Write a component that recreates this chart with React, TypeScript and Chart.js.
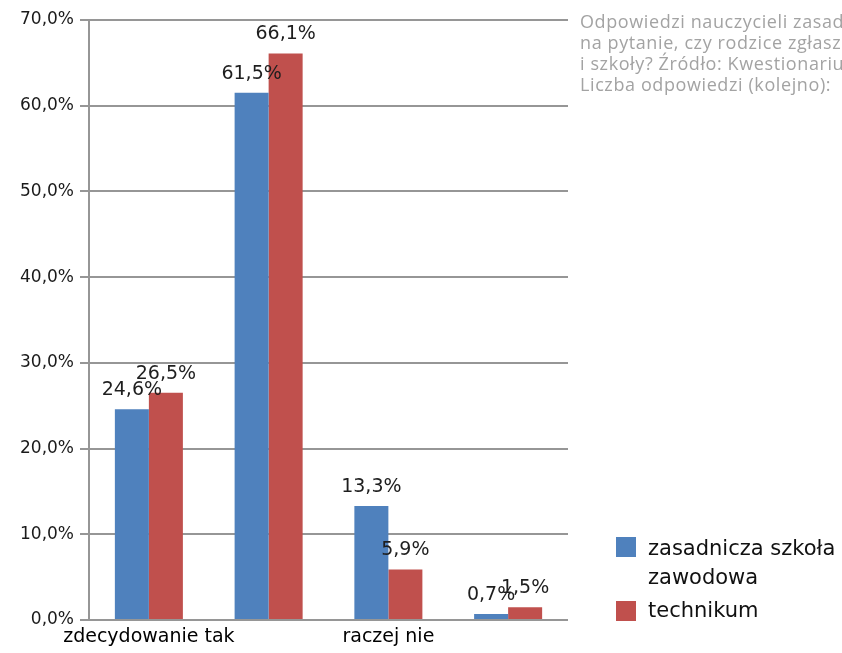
import React, { useEffect, useRef } from "react";
import { Chart, registerables } from "chart.js";

Chart.register(...registerables);

const categories = ["zdecydowanie tak", "raczej tak", "raczej nie", "zdecydowanie nie"];
const seriesNames = ["zasadnicza szkoła zawodowa", "technikum"];
const zszValues = [24.6, 61.5, 13.3, 0.7];
const technikumValues = [26.5, 66.1, 5.9, 1.5];
const yTicks = [0, 10, 20, 30, 40, 50, 60, 70];
const noteLines = [
  "Odpowiedzi nauczycieli zasadniczych",
  "na pytanie, czy rodzice zgłaszają",
  "i szkoły? Źródło: Kwestionariusz",
  "Liczba odpowiedzi (kolejno):",
];

const BLUE = "#4F81BD";
const RED = "#C0504D";
const GRID = "#969696";

const fmt = (v: number) => v.toFixed(1).replace(".", ",") + "%";

const valueLabels = {
  id: "valueLabels",
  afterDatasetsDraw(chart: any) {
    const ctx = chart.ctx;
    ctx.save();
    ctx.font = "19px 'DejaVu Sans'";
    ctx.fillStyle = "#1e1e1e";
    ctx.textAlign = "center";
    ctx.textBaseline = "alphabetic";
    chart.data.datasets.forEach((ds: any, di: number) => {
      const meta = chart.getDatasetMeta(di);
      meta.data.forEach((bar: any, i: number) => {
        ctx.fillText(fmt(ds.data[i]), bar.x, bar.y - 14);
      });
    });
    ctx.restore();
  },
};

export default function App() {
  const canvasRef = useRef<HTMLCanvasElement | null>(null);

  useEffect(() => {
    if (!canvasRef.current) return;
    const chart = new Chart(canvasRef.current, {
      type: "bar",
      data: {
        labels: categories,
        datasets: [
          {
            label: seriesNames[0],
            data: zszValues,
            backgroundColor: BLUE,
            categoryPercentage: 0.568,
            barPercentage: 1,
          },
          {
            label: seriesNames[1],
            data: technikumValues,
            backgroundColor: RED,
            categoryPercentage: 0.568,
            barPercentage: 1,
          },
        ],
      },
      options: {
        responsive: true,
        maintainAspectRatio: false,
        animation: false,
        layout: { padding: { top: 20, right: 274, left: 0, bottom: 0 } },
        plugins: {
          legend: { display: false },
          tooltip: { enabled: false },
        },
        scales: {
          x: {
            grid: { display: false, drawTicks: false },
            border: { display: false },
            ticks: {
              autoSkip: false,
              maxRotation: 0,
              padding: 6,
              color: "#000",
              font: { family: "'DejaVu Sans'", size: 19 },
              callback: (_v: any, i: number) => (i % 2 === 0 ? categories[i] : ""),
            },
            afterFit: (scale: any) => {
              scale.height = 33;
            },
          },
          y: {
            min: 0,
            max: 70,
            afterBuildTicks: (scale: any) => {
              scale.ticks = yTicks.map((v) => ({ value: v }));
            },
            grid: { color: GRID, lineWidth: 2, tickLength: 9, drawTicks: true },
            border: { color: GRID, width: 2 },
            ticks: {
              padding: 6,
              color: "#1a1a1a",
              font: { family: "'DejaVu Sans'", size: 17 },
              callback: (v: any) => fmt(Number(v)),
            },
            afterFit: (scale: any) => {
              scale.width = 89;
            },
          },
        },
      },
      plugins: [valueLabels],
    });
    return () => chart.destroy();
  }, []);

  return (
    <div
      style={{
        position: "fixed",
        left: 0,
        top: 0,
        width: 842,
        height: 653,
        overflow: "hidden",
        background: "#fff",
      }}
    >
      <div style={{ position: "absolute", left: 0, top: 0, width: 842, height: 653 }}>
        <canvas ref={canvasRef} />
      </div>
      <div
        style={{
          position: "absolute",
          left: 580,
          top: 11,
          whiteSpace: "nowrap",
          fontFamily: "'Open Sans'",
          fontSize: 18,
          letterSpacing: "0.6px",
          lineHeight: "21px",
          color: "#a3a3a3",
        }}
      >
        {noteLines.map((l, i) => (
          <div key={i}>{l}</div>
        ))}
      </div>
      <div
        style={{
          position: "absolute",
          left: 616,
          top: 534,
          fontFamily: "'DejaVu Sans'",
          fontSize: 21,
          lineHeight: "29px",
          color: "#111",
          whiteSpace: "nowrap",
        }}
      >
        <div style={{ position: "relative", paddingLeft: 32 }}>
          <span
            style={{ position: "absolute", left: 0, top: 3, width: 20, height: 20, background: BLUE }}
          />
          zasadnicza szkoła
          <br />
          zawodowa
        </div>
        <div style={{ position: "relative", paddingLeft: 32, marginTop: 4 }}>
          <span
            style={{ position: "absolute", left: 0, top: 5, width: 20, height: 20, background: RED }}
          />
          technikum
        </div>
      </div>
    </div>
  );
}
